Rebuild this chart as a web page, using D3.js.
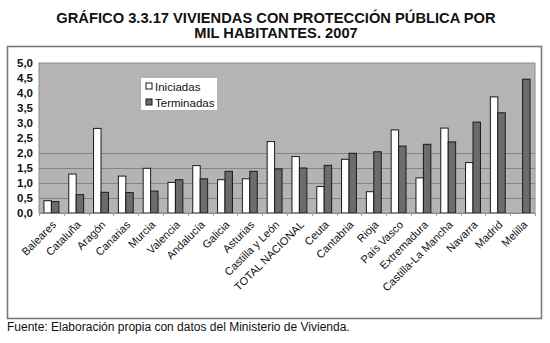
<!DOCTYPE html>
<html>
<head>
<meta charset="utf-8">
<script src="https://cdn.jsdelivr.net/npm/d3@7"></script>
<style>
	body { margin: 0; background: #fff; }
	svg { display: block; font-family: "Liberation Sans", Arial, sans-serif; }
</style>
</head>
<body>
<div id="chart"></div>
<script>
	var categories = ['Baleares', 'Cataluña', 'Aragón', 'Canarias', 'Murcia', 'Valencia', 'Andalucía',
		'Galicia', 'Asturias', 'Castilla y León', 'TOTAL NACIONAL', 'Ceuta', 'Cantabria', 'Rioja',
		'País Vasco', 'Extremadura', 'Castilla-La Mancha', 'Navarra', 'Madrid', 'Melilla'];
	var iniciadas = [0.41, 1.30, 2.82, 1.23, 1.49, 1.02, 1.58, 1.11, 1.14, 2.38, 1.88, 0.88, 1.79, 0.71,
		2.77, 1.17, 2.83, 1.68, 3.87, null];
	var terminadas = [0.38, 0.61, 0.69, 0.68, 0.73, 1.11, 1.14, 1.39, 1.39, 1.47, 1.50, 1.59, 1.99, 2.04,
		2.23, 2.29, 2.37, 3.03, 3.34, 4.46];
	var seriesNames = ['Iniciadas', 'Terminadas'];
	var yTicks = [0, 0.5, 1, 1.5, 2, 2.5, 3, 3.5, 4, 4.5, 5];
	var gridValues = [0.5, 1, 1.5, 2];
	var titleLines = ['GRÁFICO 3.3.17 VIVIENDAS CON PROTECCIÓN PÚBLICA POR', 'MIL HABITANTES. 2007'];
	var source = 'Fuente: Elaboración propia con datos del Ministerio de Vivienda.';

	var W = 550, H = 343;
	var plot = {left: 39, top: 63, right: 535, bottom: 213};
	var fills = {Iniciadas: '#ffffff', Terminadas: '#6c6c6c'};

	var svg = d3.select('#chart').append('svg')
		.attr('width', W)
		.attr('height', H);

	// title
	svg.selectAll('text.title').data(titleLines).enter().append('text')
		.attr('class', 'title')
		.attr('x', 276)
		.attr('y', function(d, i) { return 22.5 + i * 15.5; })
		.attr('text-anchor', 'middle')
		.attr('font-size', '14.7px')
		.attr('font-weight', 'bold')
		.attr('fill', '#111')
		.text(function(d) { return d; });

	// outer frame
	svg.append('rect')
		.attr('x', 7.5).attr('y', 46.5)
		.attr('width', 534).attr('height', 272)
		.attr('fill', 'none')
		.attr('stroke', '#7a7a7a')
		.attr('stroke-width', 1.6);

	var x0 = d3.scaleBand().domain(categories).range([plot.left, plot.right]);
	var bw = x0.bandwidth();
	var x1 = d3.scaleBand().domain(seriesNames).range([bw * 0.2, bw * 0.8]);
	var y = d3.scaleLinear().domain([0, 5]).range([plot.bottom, plot.top]);

	// plot area
	svg.append('rect')
		.attr('x', plot.left).attr('y', plot.top)
		.attr('width', plot.right - plot.left).attr('height', plot.bottom - plot.top)
		.attr('fill', '#b4b4b4')
		.attr('stroke', '#8c8c8c')
		.attr('stroke-width', 1);

	svg.selectAll('line.grid').data(gridValues).enter().append('line')
		.attr('class', 'grid')
		.attr('x1', plot.left).attr('x2', plot.right)
		.attr('y1', function(d) { return Math.round(y(d)) + 0.5; })
		.attr('y2', function(d) { return Math.round(y(d)) + 0.5; })
		.attr('stroke', '#858585')
		.attr('stroke-width', 1);

	// bars
	var rows = categories.map(function(c, i) {
		return {cat: c, values: [
			{name: 'Iniciadas', value: iniciadas[i]},
			{name: 'Terminadas', value: terminadas[i]}
		]};
	});

	var groups = svg.selectAll('g.cat').data(rows).enter().append('g')
		.attr('class', 'cat')
		.attr('transform', function(d) { return 'translate(' + x0(d.cat) + ',0)'; });

	groups.selectAll('rect').data(function(d) {
			return d.values.filter(function(v) { return v.value != null; });
		}).enter().append('rect')
		.attr('x', function(d) { return x1(d.name); })
		.attr('y', function(d) { return y(d.value); })
		.attr('width', x1.bandwidth())
		.attr('height', function(d) { return y(0) - y(d.value); })
		.attr('fill', function(d) { return fills[d.name]; })
		.attr('stroke', '#1a1a1a')
		.attr('stroke-width', 1);

	// y axis
	var yAxis = svg.append('g')
		.attr('transform', 'translate(' + plot.left + ',0)')
		.call(d3.axisLeft(y).tickValues(yTicks).tickSize(0).tickPadding(6)
			.tickFormat(function(d) { return d3.format('.1f')(d).replace('.', ','); }));
	yAxis.select('.domain').remove();
	yAxis.selectAll('text')
		.attr('font-size', '11.5px')
		.attr('font-weight', 'bold')
		.attr('font-family', '"Liberation Sans", Arial, sans-serif')
		.attr('fill', '#111');

	// x axis
	var xAxis = svg.append('g')
		.attr('transform', 'translate(0,' + plot.bottom + ')')
		.call(d3.axisBottom(x0).tickSize(0).tickFormat(''));
	xAxis.select('.domain').attr('stroke', '#8c8c8c');

	svg.selectAll('line.xtick').data(categories.concat([null])).enter().append('line')
		.attr('class', 'xtick')
		.attr('x1', function(d, i) { return Math.round(plot.left + i * bw) + 0.5; })
		.attr('x2', function(d, i) { return Math.round(plot.left + i * bw) + 0.5; })
		.attr('y1', plot.bottom).attr('y2', plot.bottom + 3)
		.attr('stroke', '#a0a0a0');

	svg.selectAll('text.xlab').data(categories).enter().append('text')
		.attr('class', 'xlab')
		.attr('transform', function(d) {
			return 'translate(' + (x0(d) + bw / 2) + ',' + (plot.bottom + 7) + ') rotate(-45)';
		})
		.attr('text-anchor', 'end')
		.attr('dy', '0.7em')
		.attr('font-size', '11px')
		.attr('fill', '#111')
		.text(function(d) { return d; });

	// legend
	var legend = svg.append('g').attr('transform', 'translate(141,78)');
	legend.append('rect')
		.attr('width', 76).attr('height', 32)
		.attr('fill', '#fff');
	var items = legend.selectAll('g').data(seriesNames).enter().append('g')
		.attr('transform', function(d, i) { return 'translate(5,' + (5 + i * 16) + ')'; });
	items.append('rect')
		.attr('width', 6).attr('height', 6)
		.attr('fill', function(d) { return fills[d]; })
		.attr('stroke', '#1a1a1a');
	items.append('text')
		.attr('x', 9).attr('y', 7.5)
		.attr('font-size', '11.5px')
		.attr('fill', '#111')
		.text(function(d) { return d; });

	// source
	svg.append('text')
		.attr('x', 7).attr('y', 331)
		.attr('font-size', '12px')
		.attr('fill', '#111')
		.text(source);
</script>
</body>
</html>
